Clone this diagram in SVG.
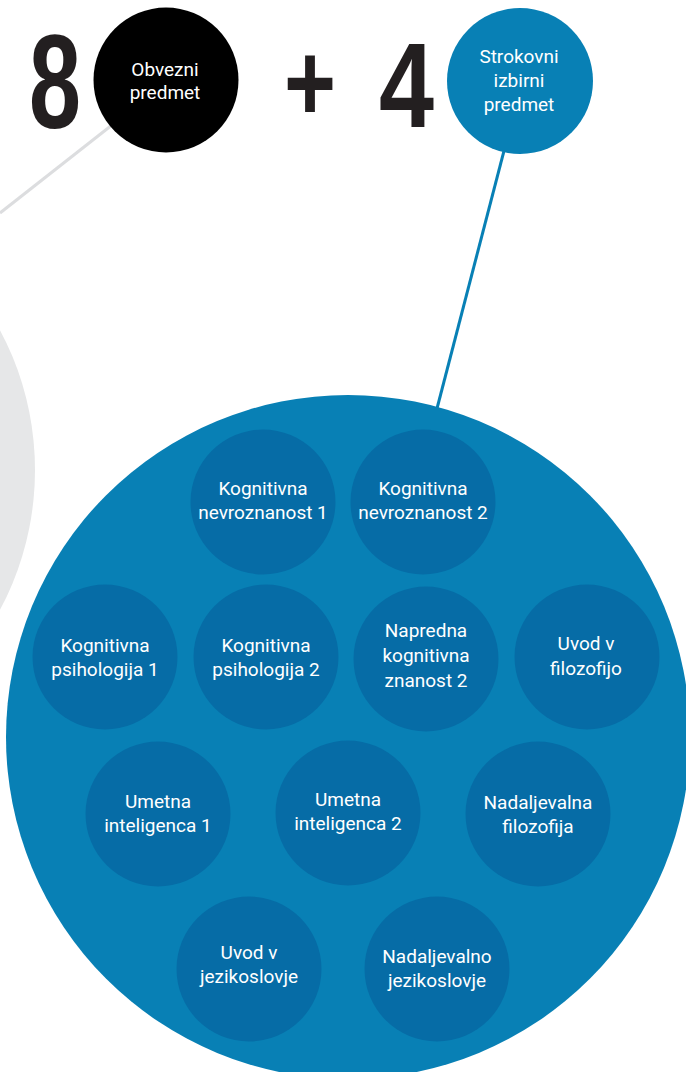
<svg xmlns="http://www.w3.org/2000/svg" width="686" height="1072" viewBox="0 0 686 1072">
<style>
.big{fill:#0880b5}
.inner{fill:#066ca6}
.lbl{font-family:Roboto,"Liberation Sans",sans-serif;font-size:19px;fill:#ffffff;text-anchor:middle}
.num{font-family:"Liberation Sans",Arial,sans-serif;font-weight:bold;fill:#231f20}
</style>
<rect width="686" height="1072" fill="#ffffff"/>
<circle id="gray-circle" cx="-262" cy="470" r="297" fill="#e6e7e8"/>
<g id="connectors">
<line x1="0" y1="213" x2="140" y2="103" stroke="#dcdddf" stroke-width="3"/>
<line x1="512" y1="120" x2="434" y2="420" stroke="#0880b5" stroke-width="3"/>
</g>
<g id="eight"><text class="num" x="29" y="128" font-size="134" textLength="52" lengthAdjust="spacingAndGlyphs">8</text></g>
<g id="obvezni">
<circle cx="166" cy="80" r="72.5" fill="#000000"/>
<text class="lbl" x="165" y="76">Obvezni</text>
<text class="lbl" x="165" y="99">predmet</text>
</g>
<g id="plus"><text class="num" x="284" y="121" font-size="112" textLength="52" lengthAdjust="spacingAndGlyphs">+</text></g>
<g id="four"><text class="num" x="379" y="127" font-size="120" textLength="55" lengthAdjust="spacingAndGlyphs">4</text></g>
<g id="strokovni">
<circle cx="520" cy="81" r="73" class="big"/>
<text class="lbl" x="519" y="63">Strokovni</text>
<text class="lbl" x="519" y="87">izbirni</text>
<text class="lbl" x="519" y="111">predmet</text>
</g>
<g id="elective-pool">
<circle cx="348" cy="737" r="342" class="big"/>
</g>
<g id="n1"><circle cx="263" cy="502" r="72.5" class="inner"/><text class="lbl" x="263" y="495">Kognitivna</text><text class="lbl" x="263" y="519">nevroznanost 1</text></g>
<g id="n2"><circle cx="423" cy="502" r="72.5" class="inner"/><text class="lbl" x="423" y="495">Kognitivna</text><text class="lbl" x="423" y="519">nevroznanost 2</text></g>
<g id="n3"><circle cx="105" cy="657" r="72.5" class="inner"/><text class="lbl" x="105" y="652">Kognitivna</text><text class="lbl" x="105" y="676">psihologija 1</text></g>
<g id="n4"><circle cx="266" cy="657" r="72.5" class="inner"/><text class="lbl" x="266" y="652">Kognitivna</text><text class="lbl" x="266" y="676">psihologija 2</text></g>
<g id="n5"><circle cx="426" cy="659" r="72.5" class="inner"/><text class="lbl" x="426" y="637">Napredna</text><text class="lbl" x="426" y="662">kognitivna</text><text class="lbl" x="426" y="687">znanost 2</text></g>
<g id="n6"><circle cx="587" cy="657" r="72.5" class="inner"/><text class="lbl" x="586" y="650">Uvod v</text><text class="lbl" x="586" y="675">filozofijo</text></g>
<g id="n7"><circle cx="158" cy="814" r="72.5" class="inner"/><text class="lbl" x="158" y="808">Umetna</text><text class="lbl" x="158" y="832">inteligenca 1</text></g>
<g id="n8"><circle cx="348" cy="813" r="72.5" class="inner"/><text class="lbl" x="348" y="806">Umetna</text><text class="lbl" x="348" y="830">inteligenca 2</text></g>
<g id="n9"><circle cx="538" cy="814" r="72.5" class="inner"/><text class="lbl" x="538" y="809">Nadaljevalna</text><text class="lbl" x="538" y="833">filozofija</text></g>
<g id="n10"><circle cx="249" cy="969" r="72.5" class="inner"/><text class="lbl" x="249" y="959">Uvod v</text><text class="lbl" x="249" y="983">jezikoslovje</text></g>
<g id="n11"><circle cx="437" cy="969" r="72.5" class="inner"/><text class="lbl" x="437" y="963">Nadaljevalno</text><text class="lbl" x="437" y="987">jezikoslovje</text></g>
</svg>
